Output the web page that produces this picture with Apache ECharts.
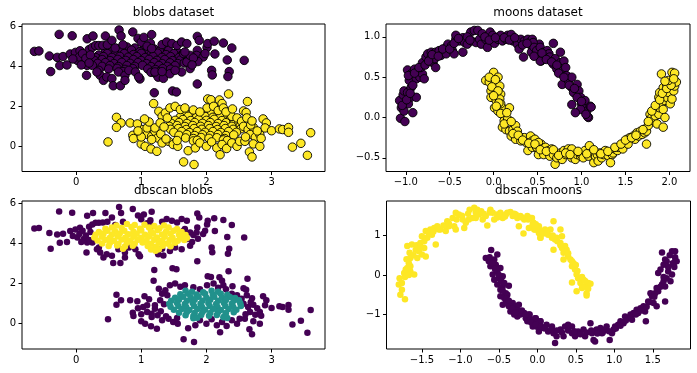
<!DOCTYPE html>
<html>
<head>
<meta charset="utf-8">
<script src="https://cdn.jsdelivr.net/npm/echarts@6/dist/echarts.min.js"></script>
<style>
html,body{margin:0;padding:0;background:#fff;}
#chart{width:697px;height:373px;}
</style>
</head>
<body>
<div id="chart"></div>
<script>
// ---- blobs dataset: upper blob (dense core = dbscan cluster 1, outer = dbscan noise)
const blobsUpperCore = [
[0.62,4.88],[0.78,4.95],[0.90,4.90],[1.05,4.92],[1.20,4.85],[1.35,4.88],
[0.45,4.72],[0.55,4.78],[0.70,4.75],[0.85,4.80],[0.98,4.72],[1.12,4.78],[1.28,4.74],[1.42,4.78],[1.55,4.70],
[0.35,4.55],[0.48,4.62],[0.60,4.58],[0.74,4.62],[0.88,4.57],[1.00,4.63],[1.15,4.58],[1.25,4.64],[1.38,4.57],[1.50,4.62],[1.62,4.55],
[0.30,4.42],[0.42,4.47],[0.55,4.43],[0.67,4.48],[0.80,4.44],[0.93,4.47],[1.06,4.42],[1.18,4.48],[1.32,4.43],[1.45,4.47],[1.58,4.42],[1.68,4.40],
[0.28,4.28],[0.40,4.32],[0.52,4.27],[0.64,4.33],[0.76,4.28],[0.88,4.32],[1.00,4.27],[1.12,4.33],[1.24,4.28],[1.36,4.32],[1.48,4.27],[1.60,4.30],[1.70,4.25],
[0.33,4.13],[0.45,4.17],[0.58,4.12],[0.70,4.18],[0.83,4.13],[0.95,4.17],[1.08,4.12],[1.20,4.17],[1.32,4.12],[1.44,4.16],[1.56,4.12],[1.66,4.15],
[0.40,3.98],[0.52,4.02],[0.65,3.97],[0.78,4.02],[0.90,3.98],[1.02,4.03],[1.15,3.97],[1.27,4.02],[1.40,3.98],[1.52,4.02],
[0.50,3.85],[0.63,3.88],[0.75,3.83],[0.87,3.87],[1.10,3.85],[1.22,3.82],[1.33,3.87],[1.45,3.84],
[0.72,3.72],[1.15,3.68],[1.27,3.70],[1.22,3.62]
];
const blobsUpperOuter = [
[-0.64,4.73],[-0.57,4.75],[-0.26,5.58],[-0.06,5.51],[-0.41,4.50],[-0.39,3.72],[-0.29,4.43],[-0.20,4.47],
[-0.25,4.02],[-0.14,4.05],[-0.09,4.60],[-0.01,4.68],[0.02,4.28],[0.06,4.76],[0.16,3.53],[0.17,5.36],
[0.26,5.50],[0.12,4.20],[0.20,4.82],[0.25,4.93],[0.30,5.02],[0.35,5.02],[0.45,5.50],[0.41,5.03],
[0.48,5.06],[0.55,5.28],[0.60,4.90],[0.66,5.80],[0.69,5.50],[0.72,5.06],[0.87,5.70],[0.95,5.38],
[1.00,5.19],[1.04,5.43],[1.16,5.57],[1.14,5.14],[1.09,4.99],[1.16,4.87],[0.35,3.78],[0.37,3.53],
[0.42,3.28],[0.47,3.45],[0.55,3.37],[0.57,3.01],[0.68,3.01],[0.17,4.03],[0.25,4.03],[0.32,3.70],
[0.65,3.70],[0.75,3.53],[0.81,3.78],[0.75,3.28],[0.98,3.35],[1.20,2.66],[1.26,3.44],[1.34,3.38],
[1.44,3.61],[1.48,2.75],[1.54,2.70],[1.32,5.07],[1.39,5.20],[1.47,5.12],[1.55,5.03],[1.62,5.20],
[1.70,5.12],[1.65,4.62],[1.62,3.70],[1.52,3.78],[1.75,3.87],[1.70,4.20],[1.86,5.48],[1.89,5.28],
[1.86,4.78],[1.85,4.53],[1.86,3.10],[2.01,4.93],[2.02,5.12],[2.12,5.24],[1.95,4.45],[1.98,4.62],
[1.87,4.22],[2.08,3.78],[2.09,3.55],[2.13,4.60],[2.26,5.15],[2.39,4.90],[2.32,4.30],[2.35,3.72],
[2.33,3.47],[2.58,4.28],[1.75,4.53],[1.67,4.70],[1.21,3.70],[1.32,3.72],[0.91,3.70],[0.96,3.45],
[0.05,4.45],[0.10,4.62],[0.15,4.38],[0.22,4.55],[-0.05,4.35],[0.08,4.05],[0.20,4.15],[1.80,4.40],[1.78,4.05]
];
// ---- blobs dataset: lower blob (dense core = dbscan cluster 2, outer = dbscan noise)
const blobsLowerCore = [
[1.68,1.62],[1.78,1.58],[1.95,1.55],[2.08,1.62],[2.18,1.58],
[1.60,1.45],[1.72,1.48],[1.85,1.44],[1.98,1.47],[2.10,1.43],[2.22,1.48],[2.32,1.42],
[1.52,1.28],[1.64,1.32],[1.76,1.27],[1.88,1.32],[2.00,1.28],[2.12,1.33],[2.24,1.27],[2.36,1.31],[2.44,1.26],
[1.46,1.13],[1.58,1.17],[1.70,1.12],[1.82,1.17],[1.94,1.13],[2.06,1.17],[2.18,1.12],[2.30,1.16],[2.42,1.12],[2.50,1.15],
[1.43,0.98],[1.55,1.02],[1.67,0.97],[1.79,1.02],[1.91,0.98],[2.03,1.02],[2.15,0.97],[2.27,1.02],[2.39,0.98],[2.52,1.00],
[1.45,0.83],[1.57,0.87],[1.69,0.82],[1.81,0.87],[1.93,0.83],[2.05,0.87],[2.17,0.82],[2.29,0.87],[2.41,0.83],[2.53,0.86],
[1.50,0.68],[1.62,0.72],[1.74,0.67],[1.86,0.72],[1.98,0.68],[2.10,0.72],[2.22,0.67],[2.34,0.72],[2.46,0.68],
[1.58,0.53],[1.70,0.57],[1.82,0.52],[1.94,0.56],[2.06,0.52],[2.18,0.57],[2.30,0.52],[2.42,0.55],
[1.68,0.40],[1.80,0.37],[1.92,0.42],[2.04,0.38],[2.16,0.41],[2.28,0.37],
[1.80,0.25],[1.86,0.28],[2.26,0.30],[2.32,0.27]
];
const blobsLowerOuter = [
[0.49,0.20],[0.62,1.43],[0.69,1.15],[0.62,0.93],[0.83,1.15],[0.94,1.10],[0.87,0.53],[0.88,0.37],
[1.00,0.10],[1.06,-0.02],[1.15,-0.15],[1.24,-0.27],[1.03,0.82],[1.09,0.57],[1.16,0.48],[1.21,0.73],
[1.25,0.40],[1.19,2.12],[1.09,0.90],[1.16,0.32],[1.32,0.15],[1.27,1.73],[1.32,1.48],[1.37,1.65],
[1.40,1.40],[1.21,0.90],[1.29,1.15],[1.44,1.90],[1.52,1.98],[1.60,1.82],[1.67,1.90],[1.42,0.23],
[1.49,0.07],[1.56,-0.02],[1.55,0.27],[1.65,-0.80],[1.81,-0.93],[1.72,-0.24],[1.83,-0.10],[1.90,0.15],
[2.00,-0.02],[2.08,0.20],[2.16,-0.10],[2.24,0.07],[2.21,-0.44],[2.31,-0.13],[2.39,0.15],[2.47,-0.02],
[2.51,0.23],[2.02,2.35],[2.07,2.31],[2.20,2.30],[2.24,2.12],[2.01,1.90],[2.11,1.98],[2.18,1.77],
[2.26,1.90],[2.34,2.60],[2.63,2.22],[2.57,1.75],[2.61,1.67],[2.39,1.48],[2.47,1.40],[2.54,1.23],
[2.57,0.98],[2.64,0.82],[2.72,0.93],[2.67,0.57],[2.75,0.43],[2.82,0.57],[2.87,1.35],[2.92,1.15],
[2.90,0.90],[2.59,0.23],[2.72,0.10],[2.82,-0.02],[2.66,-0.30],[2.70,-0.55],[3.00,0.76],[3.12,0.85],
[3.17,0.82],[3.26,0.92],[3.26,0.68],[3.32,-0.06],[3.45,0.13],[3.55,-0.47],[3.60,0.66],[2.84,0.38],
[1.00,0.45],[1.12,1.20],[1.30,0.60],[1.35,0.95],[1.38,0.35],[0.95,0.75],[1.05,1.35],
[2.60,0.45],[2.68,1.05],[2.78,0.75],[2.62,1.40],[2.70,1.25],[1.80,1.80],[1.90,1.70],[2.30,1.70],[2.40,1.85]
];
// ---- moons dataset (raw)
const moonsUpper = [
[-1.06,-0.01],[-1.01,-0.05],[-1.05,0.12],[-1.07,0.21],[-1.03,0.28],[-1.02,0.33],[-0.98,0.31],[-0.94,0.25],
[-0.88,0.25],[-0.92,0.06],[-0.97,0.17],[-1.02,0.08],[-0.94,0.37],[-0.96,0.46],[-0.98,0.59],[-0.94,0.54],
[-0.90,0.60],[-0.86,0.58],[-0.88,0.48],[-0.84,0.50],[-0.81,0.54],[-0.79,0.48],[-0.83,0.62],[-0.81,0.68],
[-0.77,0.75],[-0.75,0.79],[-0.71,0.75],[-0.69,0.68],[-0.66,0.62],[-0.67,0.73],[-0.71,0.81],[-0.66,0.81],
[-0.62,0.83],[-0.60,0.77],[-0.54,0.79],[-0.54,0.87],[-0.52,0.91],[-0.48,0.89],[-0.47,0.83],[-0.45,0.79],
[-0.43,0.97],[-0.43,1.02],[-0.39,0.95],[-0.35,0.99],[-0.33,0.93],[-0.35,0.81],[-0.30,0.91],[-0.26,1.06],
[-0.22,1.08],[-0.18,1.08],[-0.25,0.95],[-0.20,0.93],[-0.16,0.97],[-0.13,1.04],[-0.14,0.91],[-0.09,0.97],
[-0.07,0.87],[-0.04,1.06],[-0.01,1.02],[0.01,0.92],[0.05,0.97],[0.08,1.02],[0.10,0.95],[0.14,0.97],
[0.16,1.02],[0.20,1.03],[0.22,0.95],[0.25,0.97],[0.27,0.91],[0.29,0.85],[0.31,0.97],[0.35,0.95],
[0.39,0.97],[0.43,0.95],[0.44,0.87],[0.46,0.91],[0.48,0.81],[0.50,0.85],[0.52,0.75],[0.54,0.70],
[0.34,0.75],[0.43,0.81],[0.52,0.91],[0.68,0.92],
[0.44,0.97],[0.45,0.93],[0.46,0.87],[0.49,0.83],[0.53,0.87],[0.53,0.70],[0.57,0.81],[0.61,0.83],
[0.63,0.79],[0.64,0.75],[0.68,0.66],[0.70,0.73],[0.72,0.60],[0.76,0.81],[0.76,0.68],[0.78,0.58],
[0.80,0.70],[0.82,0.62],[0.78,0.41],[0.83,0.52],[0.85,0.46],[0.89,0.50],[0.89,0.37],[0.91,0.31],
[0.95,0.41],[0.97,0.33],[0.99,0.25],[1.00,0.17],[1.02,0.12],[1.04,0.21],[1.06,0.08],[1.08,0.00],
[1.10,0.14],[1.07,0.01],[0.89,0.16],[0.99,0.10],[0.93,0.06],[1.11,0.13],
[-1.04,0.15],[-0.99,0.22],[-0.95,0.30],[-0.92,0.40],[-0.97,0.52],[-0.90,0.55],[-0.85,0.62],[-0.78,0.65],
[-0.74,0.70],[-0.70,0.78],[-0.63,0.76],[-0.58,0.85],[-0.50,0.85],[-0.45,0.92],[-0.40,0.98],[-0.30,1.00],
[-0.27,0.96],[-0.10,1.00],[-0.05,0.96],[0.02,0.99],[0.12,0.99],[0.18,0.96],[0.24,0.99],[0.33,0.90],
[0.38,0.92],[0.46,0.76],[0.55,0.80],[0.60,0.72],[0.66,0.69],[0.72,0.65],[0.74,0.55],[0.80,0.50],
[0.86,0.40],[0.92,0.36],[0.95,0.25],[1.00,0.20],[1.05,0.04]
];
const moonsLower = [
[0.00,0.56],[0.05,0.50],[-0.09,0.46],[-0.05,0.44],[0.01,0.41],[0.07,0.39],[-0.03,0.33],[0.03,0.31],
[0.08,0.29],[-0.03,0.25],[0.03,0.21],[0.07,0.23],[0.01,0.12],[0.05,0.08],[0.10,0.12],[0.18,0.12],
[0.08,0.17],[0.10,0.04],[0.14,0.00],[0.12,-0.04],[0.16,-0.02],[0.10,-0.12],[0.14,-0.15],[0.18,-0.17],
[0.22,-0.15],[0.20,-0.23],[0.25,-0.10],[0.27,-0.17],[0.29,-0.23],[0.25,-0.27],[0.31,-0.29],[0.35,-0.25],
[0.37,-0.31],[0.39,-0.41],[0.43,-0.33],[0.44,-0.37],[0.46,-0.27],[0.48,-0.35],[0.50,-0.39],[0.51,-0.46],
[0.54,-0.33],
[0.42,-0.23],[0.44,-0.29],[0.47,-0.27],[0.49,-0.37],[0.51,-0.31],[0.55,-0.39],[0.57,-0.46],[0.59,-0.37],
[0.63,-0.41],[0.64,-0.48],[0.66,-0.39],[0.68,-0.46],[0.70,-0.58],[0.72,-0.50],[0.76,-0.44],[0.78,-0.52],
[0.80,-0.41],[0.82,-0.46],[0.85,-0.39],[0.89,-0.39],[0.89,-0.50],[0.93,-0.52],[0.95,-0.46],[0.99,-0.48],
[1.00,-0.46],[1.02,-0.50],[1.04,-0.41],[1.08,-0.48],[1.09,-0.35],[1.12,-0.44],[1.14,-0.56],[1.16,-0.48],
[1.18,-0.46],[1.19,-0.54],[1.21,-0.44],[1.23,-0.50],[1.25,-0.46],[1.27,-0.41],[1.30,-0.47],[1.33,-0.56],
[1.35,-0.46],[1.36,-0.44],[1.38,-0.39],[1.41,-0.41],[1.42,-0.37],[1.44,-0.35],[1.47,-0.39],[1.50,-0.31],
[1.52,-0.27],[1.53,-0.33],[1.55,-0.25],[1.59,-0.23],[1.61,-0.27],[1.63,-0.19],[1.65,-0.23],[1.67,-0.17],
[1.69,-0.21],[1.71,-0.15],[1.72,-0.19],[1.74,-0.33],[1.74,-0.17],[1.76,-0.10],[1.78,0.04],[1.80,0.00],
[1.82,-0.04],[1.84,0.02],[1.86,0.08],[1.88,0.04],[1.86,-0.08],[1.89,0.12],[1.91,0.17],[1.93,0.10],
[1.93,-0.12],[1.95,0.21],[1.97,0.25],[1.95,0.00],[1.88,0.25],[1.89,0.31],[1.93,0.37],[1.97,0.41],
[1.99,0.31],[2.01,0.17],[2.03,0.23],[2.05,0.33],[2.06,0.39],[2.08,0.44],[2.03,0.56],[2.06,0.55],[1.91,0.54],
[-0.05,0.50],[0.02,0.47],[-0.02,0.38],[0.05,0.33],[0.00,0.27],[0.06,0.18],[0.03,0.14],[0.08,0.05],
[0.15,0.06],[0.12,-0.08],[0.20,-0.05],[0.22,-0.20],[0.28,-0.22],[0.33,-0.28],[0.40,-0.32],[0.47,-0.33],
[0.53,-0.40],[0.60,-0.42],[0.68,-0.40],[0.74,-0.47],[0.82,-0.44],[0.87,-0.46],[0.96,-0.42],[1.06,-0.45],
[1.14,-0.40],[1.22,-0.45],[1.30,-0.42],[1.38,-0.37],[1.45,-0.33],[1.50,-0.28],[1.57,-0.25],[1.62,-0.22],
[1.70,-0.15],[1.76,-0.05],[1.80,0.08],[1.84,0.15],[1.89,0.22],[1.92,0.30],[1.97,0.36],[2.02,0.40],
[1.99,0.46],[2.05,0.48],[1.95,0.45]
];
// ---- moons dataset after scaling (as plotted in "dbscan moons")
const scaledMoonsUpper = [
[-1.79,-0.08],[-1.80,-0.24],[-1.78,-0.50],[-1.72,-0.61],[-1.76,-0.37],[-1.73,0.05],[-1.71,0.14],[-1.69,0.18],
[-1.65,0.09],[-1.60,0.01],[-1.67,0.30],[-1.65,0.43],[-1.66,0.56],[-1.69,0.73],[-1.63,0.77],[-1.58,0.64],
[-1.56,0.43],[-1.54,0.60],[-1.50,0.52],[-1.45,0.47],[-1.47,0.68],[-1.52,0.81],[-1.50,0.98],[-1.43,0.94],
[-1.45,1.11],[-1.39,1.15],[-1.37,1.02],[-1.32,0.77],[-1.34,1.19],[-1.30,1.23],[-1.26,1.15],[-1.19,1.11],
[-1.17,1.36],[-1.15,1.23],[-1.08,1.23],[-1.06,1.15],[-1.10,1.44],[-1.06,1.57],[-1.02,1.53],[-0.97,1.40],
[-0.95,1.19],[-0.93,1.32],[-0.89,1.40],[-0.88,1.65],[-0.82,1.70],[-0.78,1.65],[-0.84,1.44],[-0.80,1.44],
[-0.76,1.53],[-0.73,1.61],[-0.71,1.40],[-0.67,1.49],[-0.65,1.25],[-0.61,1.65],[-0.58,1.57],[-0.56,1.40],
[-0.52,1.53],[-0.48,1.57],[-0.45,1.44],[-0.41,1.53],[-0.39,1.57],[-0.35,1.59],[-0.32,1.49],[-0.28,1.53],
[-0.26,1.44],[-0.24,1.23],[-0.22,1.49],[-0.17,1.40],[-0.18,1.05],[-0.13,1.49],[-0.11,1.19],[-0.09,1.44],
[-0.06,1.28],[-0.04,1.15],[-0.02,1.28],[0.00,1.15],[0.02,1.06],[0.04,0.94],[0.02,1.23],
[-0.07,1.44],[-0.05,1.32],[-0.03,1.15],[0.01,1.19],[0.04,0.94],[0.06,1.11],[0.10,1.15],[0.14,1.02],
[0.17,1.15],[0.21,1.36],[0.19,0.94],[0.23,0.90],[0.21,0.64],[0.25,0.94],[0.30,1.15],[0.30,0.81],
[0.32,0.98],[0.32,0.68],[0.34,0.56],[0.36,0.73],[0.38,0.64],[0.34,0.39],[0.40,0.47],[0.43,0.39],
[0.45,0.22],[0.47,0.30],[0.49,0.14],[0.51,0.01],[0.53,-0.08],[0.56,-0.20],[0.58,-0.33],[0.60,-0.12],
[0.62,-0.29],[0.64,-0.46],[0.66,-0.20],[0.69,-0.22],[0.45,-0.19],[0.51,-0.41],[0.64,-0.52],
[-1.76,-0.20],[-1.72,-0.05],[-1.67,0.00],[-1.65,0.22],[-1.70,0.40],[-1.61,0.50],[-1.57,0.75],[-1.52,0.70],
[-1.47,0.85],[-1.41,1.05],[-1.35,1.10],[-1.28,1.15],[-1.22,1.25],[-1.15,1.30],[-1.05,1.40],[-0.98,1.50],
[-0.90,1.55],[-0.80,1.58],[-0.70,1.55],[-0.62,1.58],[-0.52,1.45],[-0.42,1.48],[-0.30,1.55],[-0.20,1.45],
[-0.12,1.40],[-0.03,1.25],[0.08,1.05],[0.12,1.10],[0.20,1.00],[0.26,0.85],[0.30,0.75],[0.35,0.60],
[0.40,0.55],[0.45,0.35],[0.50,0.25],[0.52,0.10],[0.58,-0.05],[0.62,-0.15],[0.66,-0.35]
];
const scaledMoonsLower = [
[-0.60,0.63],[-0.67,0.43],[-0.63,0.35],[-0.56,0.39],[-0.52,0.52],[-0.54,0.26],[-0.61,0.22],[-0.58,0.01],
[-0.52,0.09],[-0.48,0.18],[-0.50,-0.08],[-0.56,-0.12],[-0.45,-0.03],[-0.52,-0.24],[-0.45,-0.29],[-0.37,-0.27],
[-0.48,-0.37],[-0.41,-0.46],[-0.48,-0.54],[-0.43,-0.58],[-0.39,-0.50],[-0.45,-0.75],[-0.41,-0.71],[-0.37,-0.79],
[-0.35,-0.92],[-0.32,-0.71],[-0.28,-0.79],[-0.26,-0.88],[-0.24,-0.75],[-0.30,-1.00],[-0.26,-1.05],[-0.22,-1.00],
[-0.17,-0.96],[-0.15,-1.09],[-0.13,-1.17],[-0.09,-1.13],[-0.04,-1.22],[-0.02,-1.09],[0.00,-1.30],[0.02,-1.43],
[0.04,-1.17],[-0.06,-1.30],[-0.11,-1.00],
[-0.10,-1.00],[-0.07,-1.17],[-0.03,-1.09],[-0.01,-1.30],[0.04,-1.17],[0.08,-1.34],[0.12,-1.26],[0.14,-1.43],
[0.19,-1.30],[0.21,-1.47],[0.23,-1.72],[0.25,-1.55],[0.30,-1.38],[0.34,-1.55],[0.36,-1.30],[0.40,-1.26],
[0.45,-1.30],[0.45,-1.47],[0.49,-1.55],[0.53,-1.43],[0.56,-1.47],[0.60,-1.38],[0.62,-1.55],[0.69,-1.22],
[0.71,-1.47],[0.73,-1.64],[0.75,-1.68],[0.77,-1.38],[0.82,-1.34],[0.84,-1.47],[0.88,-1.38],[0.90,-1.30],
[0.94,-1.64],[0.97,-1.47],[0.99,-1.38],[1.01,-1.30],[1.05,-1.26],[1.08,-1.17],[1.12,-1.22],[1.14,-1.05],
[1.16,-1.09],[1.21,-1.00],[1.23,-1.13],[1.25,-0.96],[1.29,-0.88],[1.31,-0.96],[1.34,-0.84],[1.38,-0.79],
[1.40,-0.92],[1.41,-1.17],[1.44,-0.67],[1.47,-0.46],[1.49,-0.54],[1.51,-0.71],[1.53,-0.46],[1.55,-0.33],
[1.57,-0.41],[1.55,-0.79],[1.62,-0.24],[1.64,-0.16],[1.66,-0.29],[1.66,-0.67],[1.68,-0.08],[1.57,0.05],
[1.60,0.14],[1.64,0.26],[1.68,0.35],[1.70,0.09],[1.73,-0.16],[1.75,0.01],[1.77,0.26],[1.79,0.35],
[1.81,0.35],[1.75,0.60],[1.79,0.60],[1.62,0.57],[1.66,0.39],
[-0.62,0.45],[-0.58,0.30],[-0.55,0.15],[-0.50,0.00],[-0.47,-0.15],[-0.43,-0.20],[-0.45,-0.40],[-0.40,-0.60],
[-0.37,-0.65],[-0.32,-0.85],[-0.28,-0.95],[-0.20,-0.90],[-0.15,-1.00],[-0.08,-1.20],[-0.02,-1.25],[0.05,-1.30],
[0.10,-1.35],[0.18,-1.38],[0.25,-1.40],[0.32,-1.45],[0.40,-1.40],[0.48,-1.42],[0.56,-1.50],[0.64,-1.45],
[0.70,-1.40],[0.78,-1.48],[0.85,-1.45],[0.93,-1.42],[1.02,-1.35],[1.08,-1.28],[1.15,-1.15],[1.22,-1.08],
[1.28,-1.00],[1.35,-0.90],[1.42,-0.80],[1.46,-0.68],[1.52,-0.55],[1.56,-0.35],[1.60,-0.30],[1.64,-0.05],
[1.70,0.20],[1.76,0.30],[1.79,0.45],[1.72,0.50],[1.78,0.20]
];
// ---- tick labels
const blobsXTicks = [0, 1, 2, 3];
const blobsYTicks = [0, 2, 4, 6];
const moonsXTicks = [-1.0, -0.5, 0.0, 0.5, 1.0, 1.5, 2.0];
const moonsYTicks = [-0.5, 0.0, 0.5, 1.0];
const scaledXTicks = [-1.5, -1.0, -0.5, 0.0, 0.5, 1.0, 1.5];
const scaledYTicks = [-1, 0, 1];
const titles = ['blobs dataset', 'moons dataset', 'dbscan blobs', 'dbscan moons'];

const PURPLE = '#440154', YELLOW = '#fde725', TEAL = '#21918c';
const FONT = 'DejaVu Sans';
const minus = s => s.replace('-', '\u2212');
const fmtInt = v => minus(String(Math.round(v)));
const fmt1 = v => minus(Number(v).toFixed(1));

const grids = [
  {left: 22, top: 24, width: 303, height: 147.5},
  {left: 386, top: 24, width: 304, height: 147.5},
  {left: 22, top: 201, width: 303, height: 148},
  {left: 386.5, top: 201, width: 304, height: 148}
];
const ranges = [
  {x: [-0.83, 3.82], y: [-1.28, 6.1], xt: blobsXTicks, yt: blobsYTicks, xf: fmtInt, yf: fmtInt},
  {x: [-1.225, 2.235], y: [-0.67, 1.16], xt: moonsXTicks, yt: moonsYTicks, xf: fmt1, yf: fmt1},
  {x: [-0.83, 3.82], y: [-1.28, 6.1], xt: blobsXTicks, yt: blobsYTicks, xf: fmtInt, yf: fmtInt},
  {x: [-1.96, 1.99], y: [-1.87, 1.87], xt: scaledXTicks, yt: scaledYTicks, xf: fmt1, yf: fmtInt}
];

const xAxes = ranges.map((r, i) => ({
  type: 'value', gridIndex: i, position: 'bottom', min: r.x[0], max: r.x[1], scale: true,
  axisLine: {show: false, onZero: false}, splitLine: {show: false},
  axisTick: {show: true, inside: false, length: 3.5, customValues: r.xt, lineStyle: {color: '#000', width: 1}},
  axisLabel: {show: true, customValues: r.xt, formatter: r.xf, color: '#000', fontSize: 10, fontFamily: FONT, margin: 6}
}));
const yAxes = ranges.map((r, i) => ({
  type: 'value', gridIndex: i, position: 'left', min: r.y[0], max: r.y[1], scale: true,
  axisLine: {show: false, onZero: false}, splitLine: {show: false},
  axisTick: {show: true, inside: false, length: 3.5, customValues: r.yt, lineStyle: {color: '#000', width: 1}},
  axisLabel: {show: true, customValues: r.yt, formatter: r.yf, color: '#000', fontSize: 10, fontFamily: FONT, margin: 6}
}));

const edged = (data, color, gi) => ({
  type: 'scatter', xAxisIndex: gi, yAxisIndex: gi, data: data, symbol: 'circle', symbolSize: 8.5,
  itemStyle: {color: color, borderColor: '#000', borderWidth: 0.9, opacity: 1}, silent: true
});
const plain = (data, color, gi) => ({
  type: 'scatter', xAxisIndex: gi, yAxisIndex: gi, data: data, symbol: 'circle', symbolSize: 6.5,
  itemStyle: {color: color, opacity: 1}, silent: true
});

const series = [
  edged(blobsUpperCore.concat(blobsUpperOuter), PURPLE, 0),
  edged(blobsLowerCore.concat(blobsLowerOuter), YELLOW, 0),
  edged(moonsUpper, PURPLE, 1),
  edged(moonsLower, YELLOW, 1),
  plain(blobsUpperOuter.concat(blobsLowerOuter), PURPLE, 2),
  plain(blobsUpperCore, YELLOW, 2),
  plain(blobsLowerCore, TEAL, 2),
  plain(scaledMoonsUpper, YELLOW, 3),
  plain(scaledMoonsLower, PURPLE, 3)
];

const titlePos = [[173.5, 12.5], [538, 12.5], [173.5, 190.5], [538.5, 190.5]];
const graphic = titles.map((t, i) => ({
  type: 'text', x: titlePos[i][0], y: titlePos[i][1], z: 100,
  style: {text: t, align: 'center', verticalAlign: 'middle', fontSize: 12, fontFamily: FONT, fill: '#000'}
}));

const chart = echarts.init(document.getElementById('chart'), null, {renderer: 'canvas'});
chart.setOption({
  animation: false,
  backgroundColor: '#fff',
  grid: grids.map(g => Object.assign({show: true, borderColor: '#000', borderWidth: 1, backgroundColor: 'transparent', containLabel: false}, g)),
  xAxis: xAxes,
  yAxis: yAxes,
  series: series,
  graphic: graphic
});
</script>
</body>
</html>
